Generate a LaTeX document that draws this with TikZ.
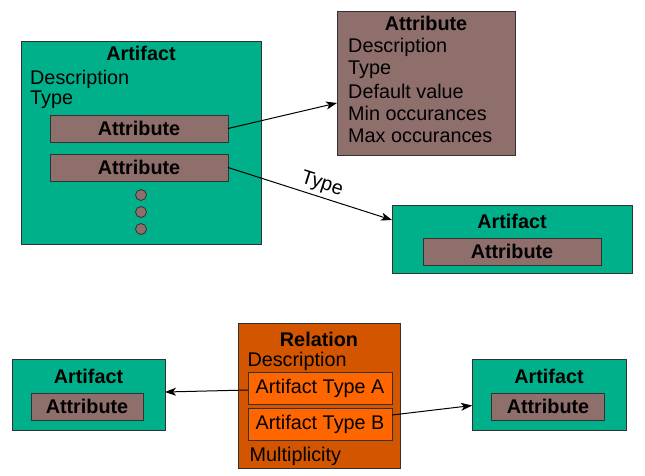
\documentclass[tikz,border=0pt]{standalone}
\usepackage{fontspec}
\setmainfont{Liberation Sans}
\usetikzlibrary{arrows.meta,calc}
\definecolor{artgreen}{RGB}{0,176,138}
\definecolor{attrbrown}{RGB}{143,111,108}
\definecolor{reldark}{RGB}{212,85,0}
\definecolor{relorange}{RGB}{255,102,0}
\definecolor{edgegray}{RGB}{50,50,50}
\tikzset{
  box/.style={draw=edgegray,line width=1pt,inner sep=0pt,outer sep=0pt,rectangle},
  artbox/.style={box,fill=artgreen},
  attrbox/.style={box,fill=attrbrown},
  relbox/.style={box,fill=reldark},
  relinbox/.style={box,fill=relorange},
  txt/.style={font=\fontsize{19.8}{22}\selectfont,inner sep=0pt},
  btxt/.style={font=\fontsize{19.8}{22}\selectfont\bfseries,inner sep=0pt},
  ltxt/.style={txt,anchor=base west},
  ttl/.style={btxt,anchor=base},
  conn/.style={draw=black,line width=1pt,-{Stealth[length=11pt,width=8pt,inset=3pt]}},
  dot/.style={circle,draw=edgegray,line width=0.8pt,fill=attrbrown,minimum size=11pt,inner sep=0pt}
}
\begin{document}
\begin{tikzpicture}[x=1pt,y=-1pt]
\useasboundingbox (0,0) rectangle (645,475);
% Big artifact
\node[artbox,minimum width=240pt,minimum height=203pt] (bigart) at (141,142.5) {};
\node[ttl] (bigartT) at (141,60) {Artifact};
\node[ltxt] (bigartD) at (30,84) {Description};
\node[ltxt] (bigartY) at (30,104) {Type};
\node[attrbox,minimum width=178pt,minimum height=27pt] (attr1) at (139,128.5) {};
\node[btxt] (attr1t) at (attr1) {Attribute};
\node[attrbox,minimum width=178pt,minimum height=27pt] (attr2) at (139,167.5) {};
\node[btxt] (attr2t) at (attr2) {Attribute};
\node[dot] (d1) at (141,195) {};
\node[dot] (d2) at (141,212) {};
\node[dot] (d3) at (141,229) {};
% Top attribute
\node[attrbox,minimum width=178pt,minimum height=144pt] (topattr) at (426,83) {};
\node[ttl] (topattrT) at (426,30.5) {Attribute};
\node[ltxt] (ta1) at (348,52) {Description};
\node[ltxt] (ta2) at (348,74) {Type};
\node[ltxt] (ta3) at (348,98) {Default value};
\node[ltxt] (ta4) at (348,120.5) {Min occurances};
\node[ltxt] (ta5) at (348,142.5) {Max occurances};
% Right artifact
\node[artbox,minimum width=240pt,minimum height=68pt] (rart) at (512,239) {};
\node[ttl] (rartT) at (512,228.5) {Artifact};
\node[attrbox,minimum width=178pt,minimum height=27pt] (rattr) at (512,251.5) {};
\node[btxt] (rattrt) at (rattr) {Attribute};
% Bottom left artifact
\node[artbox,minimum width=153pt,minimum height=71pt] (blart) at (88.5,394.5) {};
\node[ttl] (blartT) at (88.5,383.3) {Artifact};
\node[attrbox,minimum width=112pt,minimum height=27pt] (blattr) at (87,406.5) {};
\node[btxt] (blattrt) at (blattr) {Attribute};
% Relation
\node[relbox,minimum width=162pt,minimum height=145pt] (rel) at (319,395.5) {};
\node[ttl] (relT) at (319,346) {Relation};
\node[ltxt] (relD) at (247.3,366.7) {Description};
\node[relinbox,minimum width=144pt,minimum height=32pt] (relA) at (320,388) {};
\node[txt] (relAt) at (relA) {Artifact Type A};
\node[relinbox,minimum width=144pt,minimum height=32pt] (relB) at (320,424) {};
\node[txt] (relBt) at (relB) {Artifact Type B};
\node[ltxt] (relM) at (249.5,461.7) {Multiplicity};
% Bottom right artifact
\node[artbox,minimum width=154pt,minimum height=71pt] (brart) at (549,394.5) {};
\node[ttl] (brartT) at (549,383.3) {Artifact};
\node[attrbox,minimum width=113pt,minimum height=27pt] (brattr) at (548,406.5) {};
\node[btxt] (brattrt) at (brattr) {Attribute};
% Connectors
\draw[conn] (attr1.east) -- ($(topattr.west)+(0,20)$);
\draw[conn] (attr2.east) -- node[txt,pos=0.55,above=3pt,sloped] (typelbl) {Type} ($(rart.west)+(0,-19)$);
\draw[conn] ($(relA.west)+(0,2)$) -- ($(blart.east)+(0,-2.5)$);
\draw[conn] ($(relB.east)+(0,-9)$) -- ($(brart.west)+(0,11)$);
\end{tikzpicture}
\end{document}
